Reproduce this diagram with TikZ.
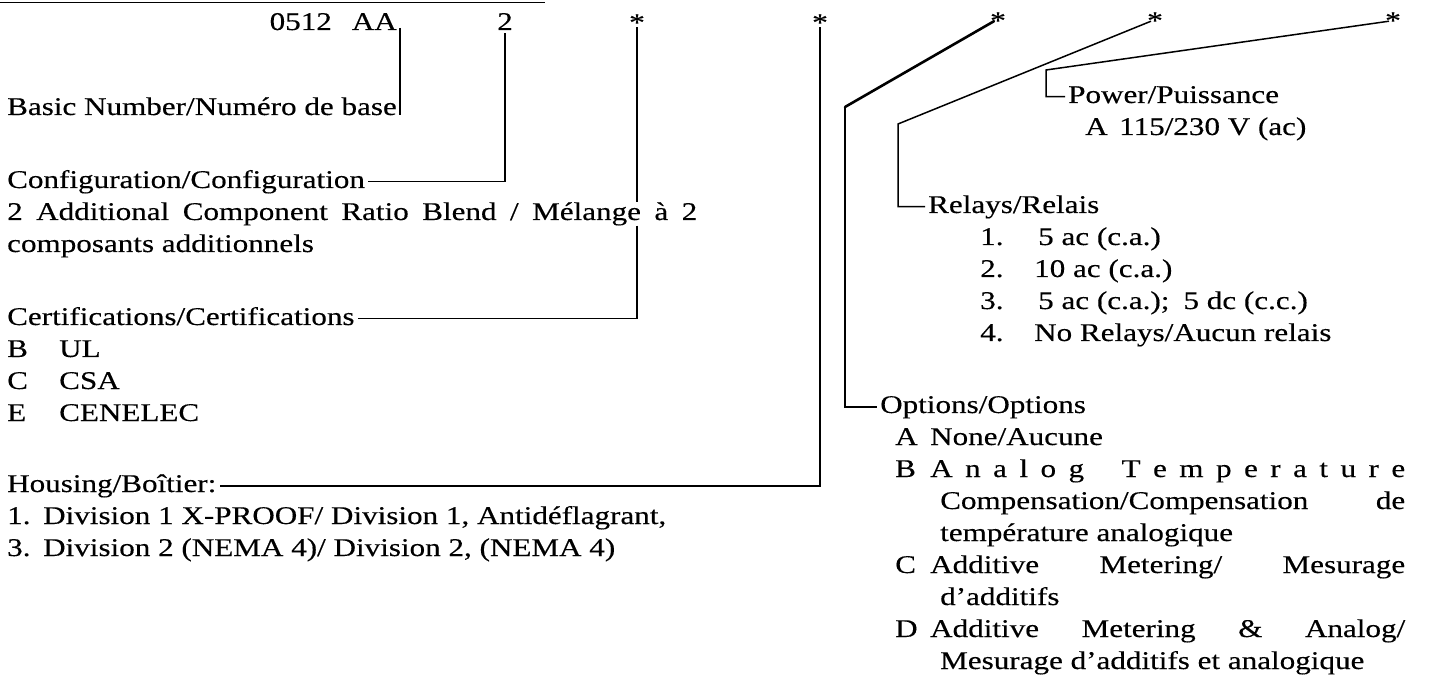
\documentclass[tikz,border=0pt]{standalone}
\usepackage{fontspec}
\setmainfont{Liberation Serif}[FakeStretch=1.22, FakeBold=0.35]
\usetikzlibrary{calc}
\newcommand{\Tf}{\fontsize{25.5}{31}\selectfont}
\begin{document}
\begin{tikzpicture}[x=1pt,y=-1pt,
  every node/.style={inner sep=0pt},
  txt/.style={anchor=base west, font=\Tf, text height=18pt, text depth=5.5pt, inner xsep=3pt},
  starmark/.style={anchor=base, font=\Tf},
  conn/.style={line width=1.5pt, line join=miter},
  boldconn/.style={line width=2.6pt, line cap=round}]
\useasboundingbox (0,0) rectangle (1432,692);
% top rule
\coordinate (ruleL) at (0,2.5);
\coordinate (ruleR) at (545,2.5);
\draw[line width=1.8pt] (ruleL) -- (ruleR);

% ---------- left column ----------
\node[txt] (basic) at (4,115) {Basic Number/Numéro de base};
\node[txt, anchor=base east] (code) at (basic.base east |- 0,30) {0512\hspace{20pt}AA};
\node[starmark] (two) at (505,30) {2};
\node[starmark] (s1) at (637,31) {*};
\node[starmark] (s2) at (820,31) {*};
\node[starmark] (s3) at (998,29) {*};
\node[starmark] (s4) at (1155,29) {*};
\node[starmark] (s5) at (1393,29) {*};
\node[txt] (config) at (4,188) {Configuration/Configuration};
\node[txt] (add) at (4,220) {\makebox[690pt][s]{2 Additional Component Ratio Blend / Mélange à 2}};
\node[txt] (comp) at (4,252) {composants additionnels};
\node[txt] (cert) at (4,325) {Certifications/Certifications};
\node[txt] (cb) at (4,357) {\makebox[52pt][l]{B}UL};
\node[txt] (cc) at (4,389) {\makebox[52pt][l]{C}CSA};
\node[txt] (ce) at (4,421) {\makebox[52pt][l]{E}CENELEC};
\node[txt] (hous) at (4,492) {Housing/Boîtier:};
\node[txt] (h1) at (4,524) {\makebox[36pt][l]{1.}Division 1 X-PROOF/ Division 1, Antidéflagrant,};
\node[txt] (h3) at (4,556) {\makebox[36pt][l]{3.}Division 2 (NEMA 4)/ Division 2, (NEMA 4)};

% ---------- right column ----------
\node[txt] (power) at (1065,103) {Power/Puissance};
\node[txt] (powa) at (1082,135) {\makebox[34pt][l]{A}115/230 V (ac)};
\node[txt] (relays) at (925,213) {Relays/Relais};
\node[txt] (r1) at (977,245) {\makebox[58pt][l]{1.}5 ac (c.a.)};
\node[txt] (r2) at (977,277) {\makebox[54pt][l]{2.}10 ac (c.a.)};
\node[txt] (r3) at (977,309) {\makebox[58pt][l]{3.}5 ac (c.a.);\hspace{14pt}5 dc (c.c.)};
\node[txt] (r4) at (977,341) {\makebox[54pt][l]{4.}No Relays/Aucun relais};
\node[txt] (options) at (877,413) {Options/Options};
\node[txt] (oa) at (892,445) {\makebox[35pt][l]{A}None/Aucune};
\node[txt] (ob) at (892,477) {\makebox[35pt][l]{B}\makebox[475pt][s]{A\hfill n\hfill a\hfill l\hfill o\hfill g\hfill\hfill\hfill T\hfill e\hfill m\hfill p\hfill e\hfill r\hfill a\hfill t\hfill u\hfill r\hfill e}};
\node[txt] (ob2) at (937,509) {\makebox[465pt][s]{Compensation/Compensation de}};
\node[txt] (ob3) at (937,541) {température analogique};
\node[txt] (oc) at (892,573) {\makebox[35pt][l]{C}\makebox[475pt][s]{Additive Metering/ Mesurage}};
\node[txt] (oc2) at (937,605) {d’additifs};
\node[txt] (od) at (892,637) {\makebox[35pt][l]{D}\makebox[475pt][s]{Additive Metering \& Analog/}};
\node[txt] (od2) at (937,669) {Mesurage d’additifs et analogique};

% ---------- connectors ----------
\draw[conn] ([yshift=2pt]code.base east) -- (basic.base east);
\draw[conn] ([yshift=-3pt]two.south) |- (config.east);
\draw[conn] ([yshift=4pt]s1.south) -- (s1.south |- add.north);
\draw[conn] (s1.south |- add.south) |- (cert.east);
\draw[conn] ([yshift=4pt]s2.south) |- (hous.east);
\coordinate (c3) at (845,107);
\coordinate (c4) at (898,124);
\coordinate (c5) at (1046,70);
\draw[boldconn] ($(s3.south)+(-4,-8)$) -- (c3);
\draw[conn] (c3) |- (options.west);
\draw[conn] ($(s4.south)+(-4,-8)$) -- (c4) |- (relays.west);
\draw[conn] ($(s5.south)+(-4,-8)$) -- (c5) |- (power.west);
\end{tikzpicture}
\end{document}
